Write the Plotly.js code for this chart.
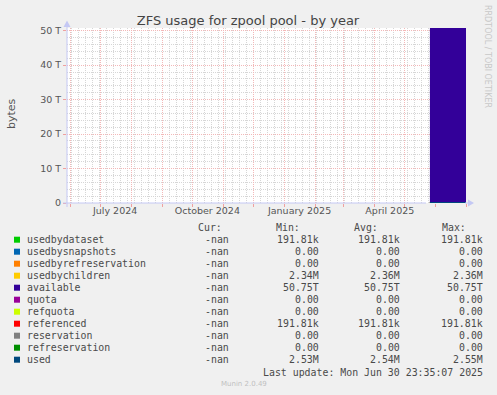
<!DOCTYPE html>
<html>
<head>
<meta charset="utf-8">
<script src="https://cdn.plot.ly/plotly-3.0.1.min.js"></script>
<style>html,body{margin:0;padding:0;background:#f0f0f0;}#chart{width:497px;height:395px;}</style>
</head>
<body>
<div id="chart"></div>
<script>
// ---- data ----
const times = ["2025-05-26", "2025-07-01"];
const stackNames = ["usedbydataset", "usedbysnapshots", "usedbyrefreservation", "usedbychildren", "available"];
const stackColors = ["#00CC00", "#0066B3", "#FF8000", "#FFCC00", "#330099"];
const stackValues = [191.81e3, 0, 0, 2.36e6, 50.75e12];
const lineNames = ["quota", "refquota", "referenced", "reservation", "refreservation", "used"];
const lineColors = ["#990099", "#CCFF00", "#FF0000", "#808080", "#008F00", "#00487D"];
const lineValues = [0, 0, 191.81e3, 0, 0, 2.54e6];

const legendNames = ["usedbydataset","usedbysnapshots","usedbyrefreservation","usedbychildren","available","quota","refquota","referenced","reservation","refreservation","used"];
const legendColors = ["#00CC00","#0066B3","#FF8000","#FFCC00","#330099","#990099","#CCFF00","#FF0000","#808080","#008F00","#00487D"];
const curText = ["-nan","-nan","-nan","-nan","-nan","-nan","-nan","-nan","-nan","-nan","-nan"];
const minText = ["191.81k","0.00","0.00","2.34M","50.75T","0.00","0.00","191.81k","0.00","0.00","2.53M"];
const avgText = ["191.81k","0.00","0.00","2.36M","50.75T","0.00","0.00","191.81k","0.00","0.00","2.54M"];
const maxText = ["191.81k","0.00","0.00","2.36M","50.75T","0.00","0.00","191.81k","0.00","0.00","2.55M"];

const yTickVals = [0, 10e12, 20e12, 30e12, 40e12, 50e12];
const yTickText = ["0", "10 T", "20 T", "30 T", "40 T", "50 T"];
const xLabelVals = ["2024-07-16", "2024-10-16", "2025-01-16", "2025-04-16"];
const xLabelText = ["July 2024", "October 2024", "January 2025", "April 2025"];
const xRange = ["2024-05-29", "2025-07-01"];
const yMax = 50.77e12;

// ---- geometry helpers (pixels -> paper) ----
const L = 67, R = 466, T = 28, B = 203;
const W = R - L, H = B - T;
const px = x => (x - L) / W;
const py = y => (B - y) / H;

const traces = [];
stackNames.forEach((n, i) => {
  traces.push({
    type: "scatter", mode: "lines", name: n, x: times, y: times.map(() => stackValues[i]),
    stackgroup: "one", line: {width: 0, shape: "hv", color: stackColors[i]},
    fillcolor: stackColors[i], hoverinfo: "skip", showlegend: false
  });
});
lineNames.forEach((n, i) => {
  traces.push({
    type: "scatter", mode: "lines", name: n, x: times, y: times.map(() => lineValues[i]),
    line: {width: 2, shape: "hv", color: lineColors[i]}, hoverinfo: "skip", showlegend: false
  });
});

const mono = {family: "DejaVu Sans Mono", size: 9.9, color: "#4a4a4a"};
const annotations = [];
function ann(text, x, y, anchor, font) {
  annotations.push({text: text, xref: "paper", yref: "paper", x: px(x), y: py(y),
    xanchor: anchor, yanchor: "middle", showarrow: false, font: font || mono, borderpad: 0, borderwidth: 0});
}
const row0 = 239.7, rowH = 12;
ann("Cur:", 222, 227.3, "right");
ann("Min:", 300, 227.3, "right");
ann("Avg:", 378.3, 227.3, "right");
ann("Max:", 466, 227.3, "right");
const shapes = [];
legendNames.forEach((n, i) => {
  const y = row0 + rowH * i;
  ann(n, 26.5, y, "left");
  ann(curText[i], 229, y, "right");
  ann(minText[i], 318.5, y, "right");
  ann(avgText[i], 400.3, y, "right");
  ann(maxText[i], 483, y, "right");
  shapes.push({type: "rect", xref: "paper", yref: "paper", x0: px(14), x1: px(20), y0: py(y - 3), y1: py(y + 3),
    fillcolor: legendColors[i], line: {width: 0}});
});
ann("Last update: Mon Jun 30 23:35:07 2025", 483, 372, "right");
ann("Munin 2.0.49", 244, 384, "center", {family: "DejaVu Sans", size: 7, color: "#c0c0c0"});
annotations.push({text: "RRDTOOL / TOBI OETIKER", xref: "paper", yref: "paper", x: px(488), y: py(56),
  xanchor: "center", yanchor: "middle", textangle: 90, showarrow: false,
  font: {family: "DejaVu Sans", size: 8, color: "#c8c8c8"}, borderpad: 0});
annotations.push({text: "bytes", xref: "paper", yref: "paper", x: px(11), y: py(114),
  xanchor: "center", yanchor: "middle", textangle: -90, showarrow: false,
  font: {family: "DejaVu Sans", size: 11, color: "#555"}, borderpad: 0});

// axis lines with arrows
const axisCol = "#c4c8f4";
shapes.push({type: "line", xref: "paper", yref: "paper", x0: px(67), x1: px(67), y0: py(207), y1: py(24), line: {color: axisCol, width: 1}, layer: "above"});
shapes.push({type: "line", xref: "paper", yref: "paper", x0: px(63), x1: px(426), y0: py(203), y1: py(203), line: {color: axisCol, width: 1}, layer: "above"});
shapes.push({type: "line", xref: "paper", yref: "paper", x0: px(465), x1: px(469), y0: py(203), y1: py(203), line: {color: axisCol, width: 1}, layer: "above"});
shapes.push({type: "path", xref: "paper", yref: "paper",
  path: `M ${px(63.5)} ${py(27)} L ${px(70.5)} ${py(27)} L ${px(67)} ${py(20.5)} Z`, fillcolor: axisCol, line: {width: 0}, layer: "above"});
shapes.push({type: "path", xref: "paper", yref: "paper",
  path: `M ${px(468)} ${py(199.5)} L ${px(468)} ${py(206.5)} L ${px(474)} ${py(203)} Z`, fillcolor: axisCol, line: {width: 0}, layer: "above"});

const tickFont = {family: "DejaVu Sans", size: 9.5, color: "#555"};
const majorGrid = "#f3b8b8", minorGrid = "#d6d6d6";
const layout = {
  width: 497, height: 395,
  paper_bgcolor: "#f0f0f0", plot_bgcolor: "#ffffff",
  margin: {l: L, r: 497 - R, t: T, b: 395 - B, pad: 0},
  showlegend: false,
  title: {text: "ZFS usage for zpool pool - by year", x: 0.499, xanchor: "center", y: 1 - 20 / 395, yanchor: "middle",
    font: {family: "DejaVu Sans", size: 13, color: "#444"}},
  xaxis: {type: "date", range: xRange, tick0: "2024-06-01", dtick: "M1", showticklabels: false,
    showgrid: true, gridcolor: majorGrid, griddash: "1px,1px", gridwidth: 1,
    ticks: "outside", ticklen: 3, tickcolor: "#f0a0a0", zeroline: false, showline: false, fixedrange: true,
    minor: {tickmode: "linear", tick0: "2024-06-02", dtick: 7 * 86400000, showgrid: true, gridcolor: minorGrid, griddash: "1px,1px", ticks: ""}},
  xaxis2: {type: "date", overlaying: "x", anchor: "y", side: "bottom", range: xRange,
    tickmode: "array", tickvals: xLabelVals, ticktext: xLabelText, ticks: "", showgrid: false,
    zeroline: false, showline: false, tickfont: tickFont, fixedrange: true},
  yaxis: {range: [0, yMax], tickmode: "array", tickvals: yTickVals, ticktext: yTickText,
    showgrid: true, gridcolor: majorGrid, griddash: "1px,1px",
    ticks: "outside", ticklen: 3, tickcolor: "#f0a0a0", zeroline: false, showline: false, tickfont: tickFont, fixedrange: true,
    minor: {tickmode: "linear", tick0: 0, dtick: 2e12, showgrid: true, gridcolor: minorGrid, griddash: "1px,1px", ticks: ""}},
  annotations: annotations,
  shapes: shapes
};
// empty carrier trace so the label axis is drawn
traces.push({type: "scatter", mode: "lines", x: [], y: [], xaxis: "x2", yaxis: "y", hoverinfo: "skip", showlegend: false});

Plotly.newPlot("chart", traces, layout, {displayModeBar: false, staticPlot: true});
</script>
</body>
</html>
